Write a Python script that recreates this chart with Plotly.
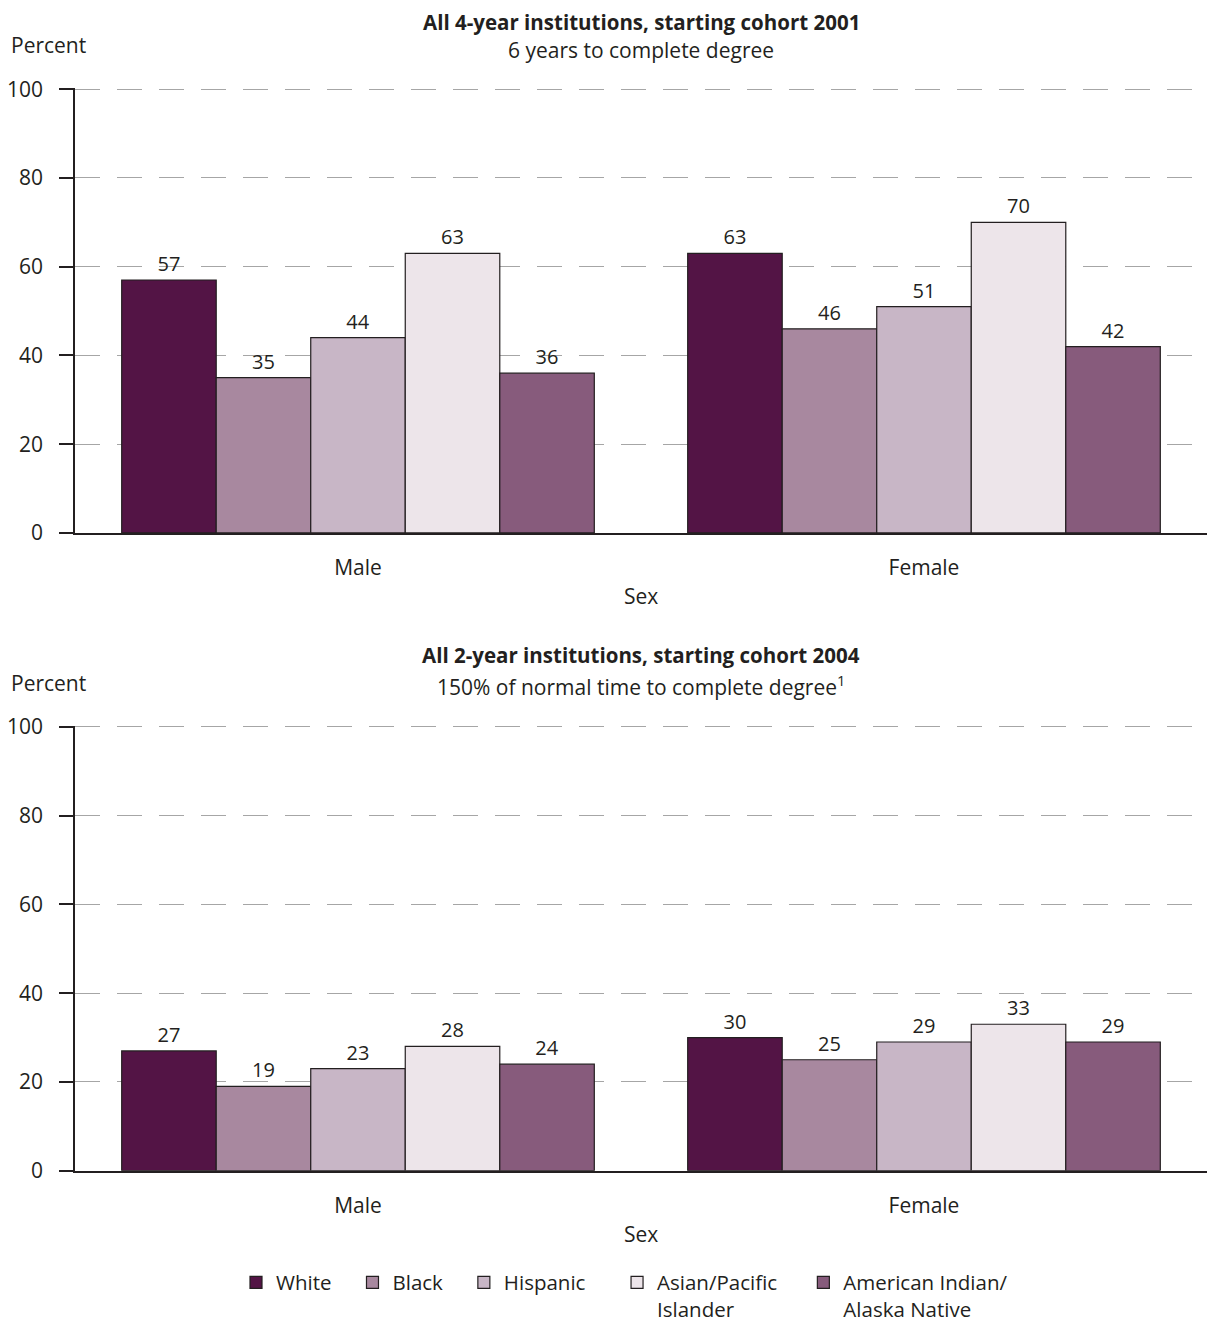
import plotly.graph_objects as go
from plotly.subplots import make_subplots

sexes = ["Male", "Female"]
races = ["White", "Black", "Hispanic", "Asian/Pacific<br>Islander", "American Indian/<br>Alaska Native"]
four_year = {
    "White": [57, 63],
    "Black": [35, 46],
    "Hispanic": [44, 51],
    "Asian/Pacific<br>Islander": [63, 70],
    "American Indian/<br>Alaska Native": [36, 42],
}
two_year = {
    "White": [27, 30],
    "Black": [19, 25],
    "Hispanic": [23, 29],
    "Asian/Pacific<br>Islander": [28, 33],
    "American Indian/<br>Alaska Native": [24, 29],
}
colors = ["#531445", "#a8889f", "#c8b6c6", "#ede5ea", "#875b7c"]
y_ticks = [0, 20, 40, 60, 80, 100]

# page keeps the default 8px body margin; the photo is scaled slightly vertically
OFF = 8
VS, VB = 0.989, 1.0
W, H = 1200, 1322
FONT = "Open Sans"
TXT = "#231f20"
NB = "\u00a0"

def py(r):
    p = (r - VB) / VS - OFF
    return 1 - p / H

def pxx(r):
    return (r - OFF) / W

pads = [3, 3, 5, 4, 3]

def pad_name(n, k):
    parts = n.split("<br>")
    parts[0] = parts[0] + NB * k
    return "<br>".join(parts)

fig = make_subplots(rows=2, cols=1)

for i, r in enumerate(races):
    for row, data in ((1, four_year), (2, two_year)):
        fig.add_trace(go.Bar(
            x=sexes, y=data[r], name=pad_name(r, pads[i]), legendgroup=r,
            showlegend=(row == 1),
            marker=dict(color=colors[i], line=dict(color=TXT, width=1.2)),
            texttemplate="%{y}", textposition="outside",
            textfont=dict(size=20, color=TXT, family=FONT),
            cliponaxis=False,
        ), row=row, col=1)

x0, x1 = pxx(75), pxx(1207)
doms = [(py(534), py(89)), (py(1172), py(727))]
for k, (d0, d1) in enumerate(doms, start=1):
    xa = "xaxis" if k == 1 else f"xaxis{k}"
    ya = "yaxis" if k == 1 else f"yaxis{k}"
    fig.layout[xa].update(domain=[x0, x1], showline=True, linecolor=TXT, linewidth=1.5,
                          ticks="", showgrid=False, automargin=False,
                          tickfont=dict(size=21, color=TXT, family=FONT),
                          ticklabelstandoff=15)
    fig.layout[ya].update(domain=[d0, d1], range=[0, 100.25], tickvals=y_ticks,
                          showline=True, linecolor=TXT, linewidth=1.5,
                          ticks="outside", ticklen=14, tickcolor=TXT, tickwidth=1.5,
                          showgrid=True, gridcolor="#a6a6a6", gridwidth=1.3,
                          griddash="25px,17px", zeroline=False, automargin=False,
                          tickfont=dict(size=21, color=TXT, family=FONT),
                          ticklabelstandoff=12)

ann = []
def add(text, xpx, ypx, size=21, xanchor="center"):
    ann.append(dict(text=text, x=pxx(xpx), y=py(ypx), xref="paper", yref="paper",
                    xanchor=xanchor, yanchor="middle", showarrow=False,
                    font=dict(size=size, color=TXT, family=FONT)))

cx = (75 + 1207) / 2
add("<b>All 4-year institutions, starting cohort 2001</b>", cx, 22.5, size=20.5)
add("6 years to complete degree", cx, 50.5)
add("Percent", 9, 46, xanchor="left")
add("Sex", cx, 597)
add("<b>All 2-year institutions, starting cohort 2004</b>", cx, 656, size=20.5)
add("150% of normal time to complete degree<sup>1</sup>", cx, 687)
add("Percent", 9, 684, xanchor="left")
add("Sex", cx, 1235)

fig.update_layout(
    width=W, height=H, margin=dict(l=0, r=0, t=0, b=0),
    paper_bgcolor="white", plot_bgcolor="white",
    barmode="group", bargap=0.165, bargroupgap=0,
    font=dict(family=FONT, size=21, color=TXT),
    annotations=ann,
    legend=dict(orientation="h", x=pxx(236), xanchor="left", y=py(1264), yanchor="top",
                font=dict(size=20.5, color=TXT, family=FONT), valign="top",
                itemwidth=30, traceorder="normal"),
)

fig.write_html("out.html", config={"displayModeBar": False})
